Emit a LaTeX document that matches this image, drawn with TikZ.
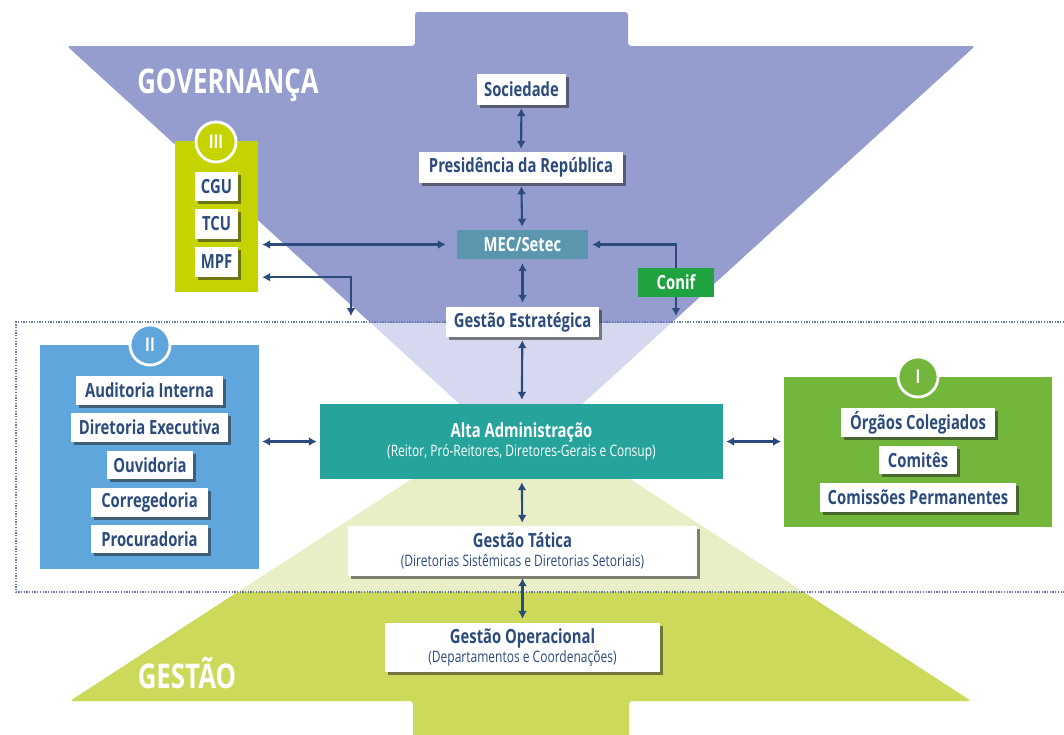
\documentclass[tikz,border=0pt]{standalone}
\usepackage{fontspec}
\setmainfont{Open Sans}[FakeStretch=0.76]
\usetikzlibrary{shadows,arrows.meta,calc}
\definecolor{purD}{HTML}{959DCF}
\definecolor{purL}{HTML}{D5D8EE}
\definecolor{grnD}{HTML}{CDD95A}
\definecolor{grnL}{HTML}{E8EFC6}
\definecolor{navy}{HTML}{2C4B7D}
\definecolor{cIII}{HTML}{C5D400}
\definecolor{cII}{HTML}{5EA6DC}
\definecolor{cI}{HTML}{72B73B}
\definecolor{conifc}{HTML}{1FA340}
\definecolor{mecc}{HTML}{5A96AD}
\definecolor{altac}{HTML}{26A49C}
\definecolor{dotc}{HTML}{6578B0}
\newcommand{\ttl}{\fontsize{19.5}{21}\selectfont\bfseries}
\newcommand{\sub}{\fontsize{15.8}{17}\selectfont\mdseries}
\begin{document}
\begin{tikzpicture}[x=1pt,y=-1pt,
  wbox/.style={fill=white, text=navy, font=\ttl, inner sep=0pt, align=center,
    drop shadow={shadow xshift=2.5pt, shadow yshift=-2.5pt, opacity=0.55, fill=black!85}},
  cbox/.style={inner sep=0pt, text=white, font=\ttl, align=center},
  group/.style={inner sep=0pt},
  badge/.style={circle, draw=white, line width=2.8pt, minimum size=40pt, inner sep=0pt,
    text=white, font=\fontsize{19}{20}\selectfont\bfseries},
  arr/.style={draw=navy, line width=2.1pt, {Latex[length=8pt,width=9pt]}-{Latex[length=8pt,width=9pt]}},
  arrone/.style={draw=navy, line width=2.1pt, -{Latex[length=8pt,width=9pt]}},
  dotline/.style={draw=dotc, line width=1.3pt, dash pattern=on 1.3pt off 1.4pt},
  bigtitle/.style={text=white, font=\fontsize{34}{40}\selectfont\bfseries}
]
\useasboundingbox (0,0) rectangle (1064,734);
\def\topshape{(67,46) -- (415,46) -- (415,12) -- (628,12) -- (628,46) -- (975,46) -- (521,460) -- cycle}
\def\botshape{(70,701) -- (413,701) -- (413,740) -- (629,740) -- (629,701) -- (971,701) -- (521,408) -- cycle}
% top (governance) shape
\fill[purL, rounded corners=3pt] \topshape;
\begin{scope}
  \clip (0,0) rectangle (1064,322);
  \fill[purD, rounded corners=3pt] \topshape;
\end{scope}
% bottom (management) shape
\fill[grnL, rounded corners=3pt] \botshape;
\begin{scope}
  \clip (0,592) rectangle (1064,734);
  \fill[grnD, rounded corners=3pt] \botshape;
\end{scope}
% dotted frame
\draw[dotline] (1064,322) -- (16,322) -- (16,592) -- (1064,592);

% section titles
\node[bigtitle] (gov) at (228,85) {GOVERNANÇA};
\node[bigtitle] (ges) at (187,673) {GESTÃO};

% central column
\node[wbox, minimum width=89pt, minimum height=31pt] (soc) at (521.5,89.5) {Sociedade};
\node[wbox, minimum width=204pt, minimum height=31pt] (pres) at (521,167.5) {Presidência da República};
\node[cbox, fill=mecc, minimum width=131pt, minimum height=29pt] (mec) at (522.5,244.5) {MEC/Setec};
\node[wbox, minimum width=153pt, minimum height=30pt] (ge) at (522.5,322) {Gestão Estratégica};
\node[cbox, fill=altac, minimum width=403pt, minimum height=75pt] (alta) at (521.5,441.5)
  {Alta Administração\\[-2pt]{\sub (Reitor, Pró-Reitores, Diretores-Gerais e Consup)}};
\node[wbox, minimum width=349pt, minimum height=50pt] (gt) at (522.5,551)
  {Gestão Tática\\[-2pt]{\sub (Diretorias Sistêmicas e Diretorias Setoriais)}};
\node[wbox, minimum width=275pt, minimum height=49pt] (go) at (522.5,647.5)
  {Gestão Operacional\\[-2pt]{\sub (Departamentos e Coordenações)}};
\node[cbox, fill=conifc, minimum width=76pt, minimum height=29pt] (conif) at (676,282.5) {Conif};

% group III
\node[group, fill=cIII, minimum width=83pt, minimum height=151pt] (iii) at (216.5,216.5) {};
\node[badge, fill=cIII] (b3) at (216,142) {III};
\node[wbox, minimum width=43pt, minimum height=29pt] (cgu) at (216.5,186.5) {CGU};
\node[wbox, minimum width=43pt, minimum height=30pt] (tcu) at (216.5,224) {TCU};
\node[wbox, minimum width=43pt, minimum height=30pt] (mpf) at (216.5,262) {MPF};

% group II
\node[group, fill=cII, minimum width=219pt, minimum height=224pt] (ii) at (149.5,457) {};
\node[badge, fill=cII] (b2) at (150,345) {II};
\node[wbox, minimum width=147pt, minimum height=29pt] (aud) at (149.5,390.5) {Auditoria Interna};
\node[wbox, minimum width=157pt, minimum height=29pt] (dir) at (149.5,427.5) {Diretoria Executiva};
\node[wbox, minimum width=86pt, minimum height=28pt] (ouv) at (150,465) {Ouvidoria};
\node[wbox, minimum width=117pt, minimum height=29pt] (cor) at (149.5,502.5) {Corregedoria};
\node[wbox, minimum width=117pt, minimum height=28pt] (proc) at (149.5,539) {Procuradoria};

% group I
\node[group, fill=cI, minimum width=267.5pt, minimum height=150pt] (gi) at (918,452) {};
\node[badge, fill=cI] (b1) at (918,377) {I};
\node[wbox, minimum width=154pt, minimum height=29pt] (org) at (918,422.5) {Órgãos Colegiados};
\node[wbox, minimum width=78pt, minimum height=28pt] (com) at (918,460) {Comitês};
\node[wbox, minimum width=196pt, minimum height=29pt] (cp) at (918,497.5) {Comissões Permanentes};

% free ends
\coordinate (gl) at (351,316);
\coordinate (cd) at (676,316);

% connectors
\draw[arr, shorten <=3pt, shorten >=3pt] (soc) -- (pres);
\draw[arr, shorten <=3pt, shorten >=3pt] (pres) -- (mec);
\draw[arr, shorten <=4pt, shorten >=4pt] (mec) -- (ge);
\draw[arr, shorten <=3pt, shorten >=4pt] (ge) -- (alta);
\draw[arr, shorten <=3pt, shorten >=3pt] (alta) -- (gt);
\draw[arr, shorten <=2pt, shorten >=4pt] (gt) -- (go);
\draw[arr, shorten <=4pt, shorten >=11pt] (iii.east |- mec.west) -- (mec.west);
\draw[arr, shorten <=4pt] (mpf.south -| iii.east) -| (gl);
\draw[arrone, shorten >=4pt] (conif.north) |- (mec.east);
\draw[arrone] (conif.south) -- (cd);
\draw[arr, shorten <=3pt, shorten >=3pt] (ii.east |- alta.west) -- (alta.west);
\draw[arr, shorten <=3pt, shorten >=3pt] (alta.east) -- (gi.west |- alta.east);
\end{tikzpicture}
\end{document}
